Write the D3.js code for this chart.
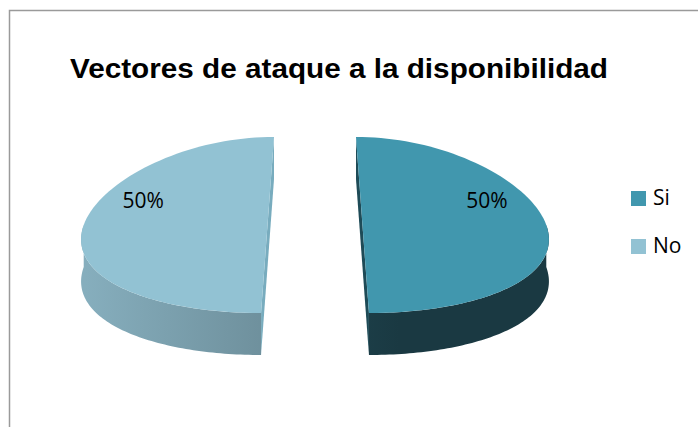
<!DOCTYPE html>
<html>
<head>
<meta charset="utf-8">
<script src="https://cdn.jsdelivr.net/npm/d3@7"></script>
<style>
  body { margin: 0; background: #fff; }
  svg { display: block; }
</style>
</head>
<body>
<div id="chart"></div>
<script>
'use strict'

// data
const categories = ['Si', 'No']
const values = [50, 50]
const labels = ['50%', '50%']
const title = 'Vectores de ataque a la disponibilidad'

////////////////////////////////////
//////////// svg setup /////////////
////////////////////////////////////

const svgWidth = 698, svgHeight = 427

const svg = d3.select('#chart')
    .append('svg')
    .attr('width', svgWidth)
    .attr('height', svgHeight)

// chart frame (runs off the right and bottom edges)
svg.append('path')
    .attr('d', `M9.5,${svgHeight + 5} V10.5 H${svgWidth + 5}`)
    .attr('fill', 'none')
    .attr('stroke', '#9a9a9a')
    .attr('stroke-width', 1.5)

svg.append('text')
    .attr('x', 70)
    .attr('y', 78)
    .attr('textLength', 538)
    .attr('lengthAdjust', 'spacingAndGlyphs')
    .style('font-family', 'Liberation Sans, Arial, sans-serif')
    .style('font-weight', '700')
    .style('font-size', '28px')
    .style('fill', '#000')
    .text(title)

////////////////////////////////////
//////////// 3d pie ////////////////
////////////////////////////////////

const cx = 315, cy = 225
const R = 182          // radius in "table" units
const ry = 88          // vertical half-axis on screen
const depth = 42
const explode = 47
// perspective: horizontal scale grows toward the viewer (z from -1 far to 1 near)
const persp = d3.scaleLinear().domain([-1, 1]).range([0.872, 1.148])

const topColor = d3.scaleOrdinal().domain(categories).range(['#4197ae', '#92c2d3'])
const cutColor = d3.scaleOrdinal().domain(categories).range(['#1e4b57', '#78acbe'])
const sideFrom = d3.scaleOrdinal().domain(categories).range(['#245562', '#86aebd'])
const sideTo = d3.scaleOrdinal().domain(categories).range(['#1a3942', '#56717b'])

const pie = d3.pie().sort(null)
const arcs = pie(values)

const defs = svg.append('defs')

// project a point of the table: X horizontal offset, angle-derived depth z
function project(X, z, dz = 0) {
    return [cx + X * persp(z), cy + ry * z + dz]
}

function pt(a, ex, dz = 0) {
    return project(ex + R * Math.sin(a), -Math.cos(a), dz)
}

function arcPoints(a0, a1, ex, dz) {
    const n = 80, out = []
    for (let i = 0; i <= n; i++) {
        out.push(pt(a0 + (a1 - a0) * i / n, ex, dz))
    }
    return out
}

arcs.forEach((d, i) => {
    const cat = categories[i]
    const mid = (d.startAngle + d.endAngle) / 2
    const ex = explode * Math.sign(Math.sin(mid))

    const g = svg.append('g').attr('class', 'slice')

    // cut face along the diameter
    const p0 = project(ex, -1), p1 = project(ex, 1)
    g.append('path')
        .attr('d', d3.line()([p0, p1, [p1[0], p1[1] + depth], [p0[0], p0[1] + depth]]) + 'Z')
        .attr('fill', cutColor(cat))

    // outer side wall, front half only
    const v0 = Math.max(d.startAngle, Math.PI / 2)
    const v1 = Math.min(d.endAngle, 3 * Math.PI / 2)
    if (v1 > v0) {
        const gid = 'side-' + i
        const c = project(ex, 0)
        const lg = defs.append('linearGradient')
            .attr('id', gid)
            .attr('gradientUnits', 'userSpaceOnUse')
            .attr('x1', c[0] - R).attr('x2', c[0] + R)
            .attr('y1', 0).attr('y2', 0)
        if (cat === 'Si') {
            lg.append('stop').attr('offset', 0).attr('stop-color', sideFrom(cat))
            lg.append('stop').attr('offset', 0.6).attr('stop-color', sideTo(cat))
            lg.append('stop').attr('offset', 1).attr('stop-color', sideTo(cat))
        } else {
            lg.append('stop').attr('offset', 0).attr('stop-color', sideFrom(cat))
            lg.append('stop').attr('offset', 1).attr('stop-color', sideTo(cat))
        }
        const topEdge = arcPoints(v0, v1, ex, 0)
        const botEdge = arcPoints(v1, v0, ex, depth)
        g.append('path')
            .attr('d', d3.line()(topEdge.concat(botEdge)) + 'Z')
            .attr('fill', `url(#${gid})`)
    }

    // top face
    const face = arcPoints(d.startAngle, d.endAngle, ex, 0)
    g.append('path')
        .attr('d', d3.line()(face) + 'Z')
        .attr('fill', topColor(cat))

    // data label
    const la = mid - Math.sign(Math.sin(mid)) * 0.38
    const lp = project(ex + 0.77 * R * Math.sin(la), -0.77 * Math.cos(la))
    g.append('text')
        .attr('x', lp[0])
        .attr('y', lp[1] + 8)
        .attr('text-anchor', 'middle')
        .style('font-family', 'Open Sans, sans-serif')
        .style('font-size', '21px')
        .style('fill', '#000')
        .text(labels[i])
})

////////////////////////////////////
//////////// legend ////////////////
////////////////////////////////////

const legendY = d3.scalePoint().domain(categories).range([191, 239])

const legend = svg.selectAll('.legend')
    .data(categories)
    .join('g')
    .attr('class', 'legend')
    .attr('transform', d => `translate(631,${legendY(d)})`)

legend.append('rect')
    .attr('width', 15)
    .attr('height', 15)
    .attr('fill', d => topColor(d))

legend.append('text')
    .attr('x', 22)
    .attr('y', 14)
    .style('font-family', 'Open Sans, sans-serif')
    .style('font-size', '21px')
    .style('fill', '#000')
    .text(d => d)
</script>
</body>
</html>
